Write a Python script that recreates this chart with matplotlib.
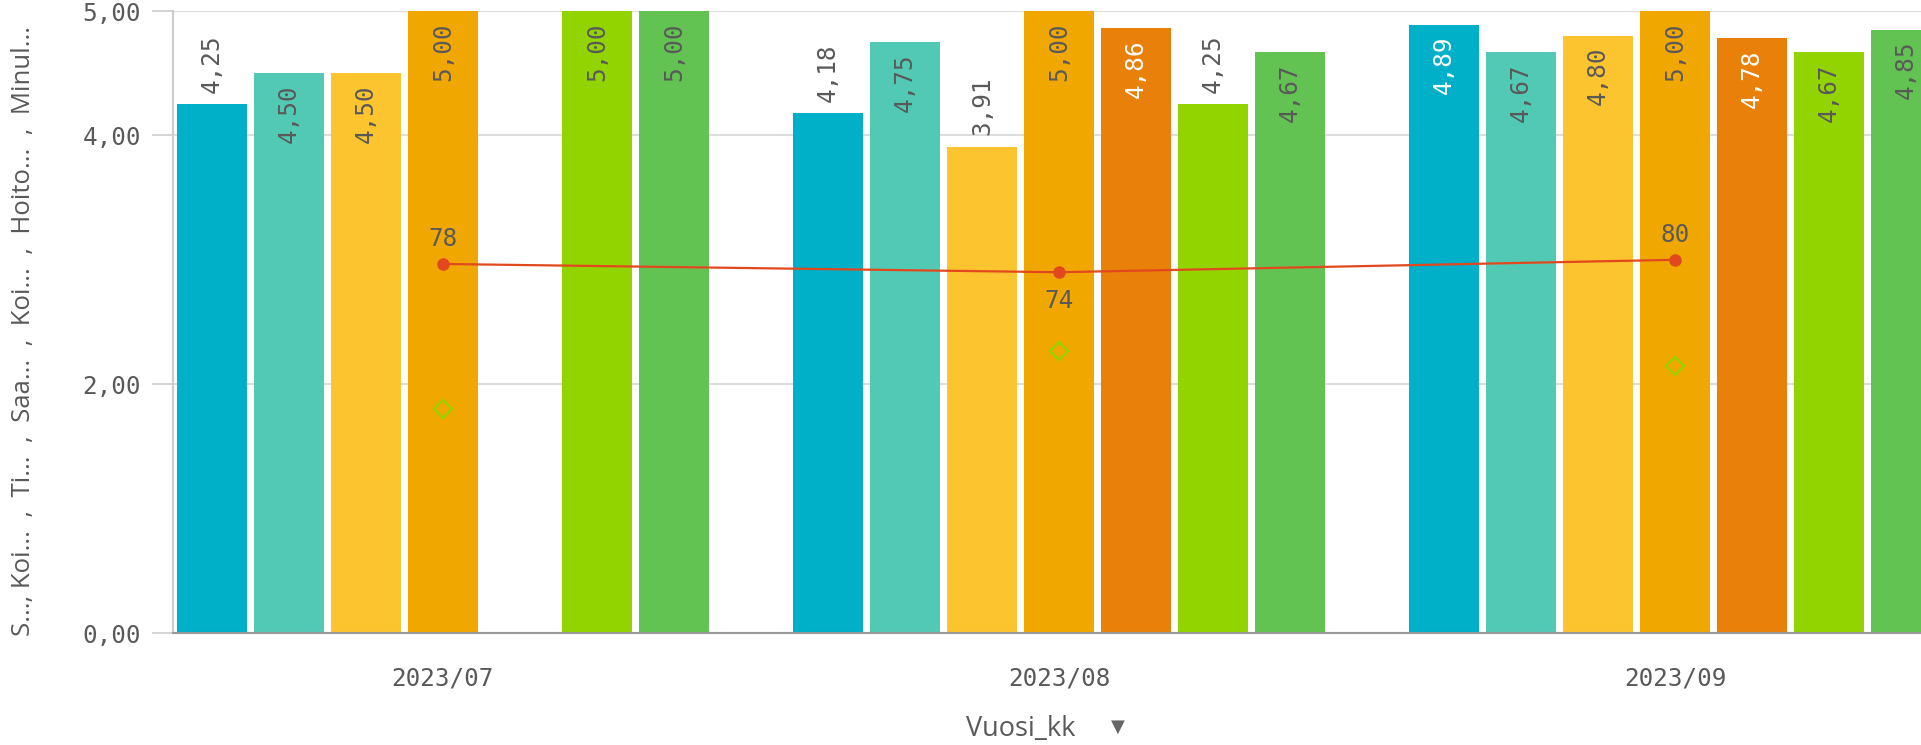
import matplotlib
matplotlib.use("Agg")
import matplotlib.pyplot as plt
import numpy as np

months = ["2023/07", "2023/08", "2023/09"]
series_colors = ["#00AFC8", "#52C9B4", "#FCC42F", "#F0A800", "#E8800A", "#92D400", "#62C252"]
white_text_series = [0, 4]
# bar values per series (rows) x month (cols); None = missing
bar_values = [
    [4.25, 4.18, 4.89],
    [4.50, 4.75, 4.67],
    [4.50, 3.91, 4.80],
    [5.00, 5.00, 5.00],
    [None, 4.86, 4.78],
    [5.00, 4.25, 4.67],
    [5.00, 4.67, 4.85],
]
line_values = [78, 74, 80]
diamond_values = [8, 36, 29]
y_ticks = [0, 2, 4, 5]
y_title_parts = ["S...", "Koi... ", "Ti... ", "Saa... ", "Koi... ", "Hoito... ", "Minul..."]
x_title = "Vuosi_kk"

W, H = 1921, 745
fig = plt.figure(figsize=(W / 100, H / 100), dpi=100)
ax = fig.add_axes([173 / W, 1 - 633 / H, 1 - 173 / W, (633 - 11) / H])
mono = "DejaVu Sans Mono"
gray = "#595959"
fs = 17.5

n = len(bar_values)
slot = 1 / (n + 1)
bw = slot * 0.905
x = np.arange(len(months))
for j, vals in enumerate(bar_values):
    for i, v in enumerate(vals):
        if v is None:
            continue
        xp = x[i] + (j - (n - 1) / 2) * slot
        ax.bar(xp, v, width=bw, color=series_colors[j], edgecolor="none", zorder=2)
        lbl = f"{v:.2f}".replace(".", ",")
        if 5.0 - v > 0.6:
            ax.annotate(lbl, (xp, v), xytext=(0, 8), textcoords="offset points",
                        rotation=90, ha="center", va="bottom", fontsize=fs,
                        family=mono, color=gray, zorder=4)
        else:
            col = "white" if j in white_text_series else gray
            ax.annotate(lbl, (xp, v), xytext=(0, -8), textcoords="offset points",
                        rotation=90, ha="center", va="top", fontsize=fs,
                        family=mono, color=col, zorder=4)

ax.set_xlim(-0.438, 2.399)
ax.set_ylim(0, 5.0)
ax.set_yticks(y_ticks)
ax.set_yticklabels([f"{t:.2f}".replace(".", ",") for t in y_ticks], family=mono,
                   fontsize=fs, color=gray)
ax.set_xticks(x)
ax.set_xticklabels(months, family=mono, fontsize=fs, color=gray)
ax.tick_params(axis="x", length=0, pad=24)
ax.tick_params(axis="y", length=15, color="#cccccc", width=1.2, pad=8)
ax.grid(axis="y", color="#dddddd", linewidth=1.5, zorder=0)
ax.set_axisbelow(True)
for s in ["top", "right"]:
    ax.spines[s].set_visible(False)
ax.spines["left"].set_color("#cccccc")
ax.spines["left"].set_linewidth(1.5)
ax.spines["bottom"].set_color("#999999")
ax.spines["bottom"].set_linewidth(1.5)

ax2 = ax.twinx()
ax2.set_ylim(-100, 200)
ax2.axis("off")
ax2.plot(x, line_values, color="#E2481E", linewidth=1.6, marker="o", markersize=8, zorder=5)
ax2.plot(x, diamond_values, linestyle="none", marker="D", markersize=9,
         markerfacecolor="none", markeredgecolor="#92D400", markeredgewidth=1.6, zorder=5)
lo = min(line_values)
for xi, v in zip(x, line_values):
    if v == lo:
        ax2.annotate(str(v), (xi, v), xytext=(0, -12), textcoords="offset points",
                     ha="center", va="top", fontsize=fs, family=mono, color=gray)
    else:
        ax2.annotate(str(v), (xi, v), xytext=(0, 9), textcoords="offset points",
                     ha="center", va="bottom", fontsize=fs, family=mono, color=gray)

y_title = ", ".join(y_title_parts).replace(" , ", "  ,  ")
fig.text(24 / W, 1 - 331 / H, y_title, rotation=90, ha="center", va="center",
         fontsize=18.5, family="Open Sans", color=gray)
fig.text(1021 / W, 1 - 729 / H, x_title, ha="center", va="center",
         fontsize=19.5, family="Open Sans", color=gray)
fig.text(1118 / W, 1 - 727 / H, "▼", ha="center", va="center",
         fontsize=13, family="DejaVu Sans", color="#666666")

fig.savefig("out.png", dpi=100)
